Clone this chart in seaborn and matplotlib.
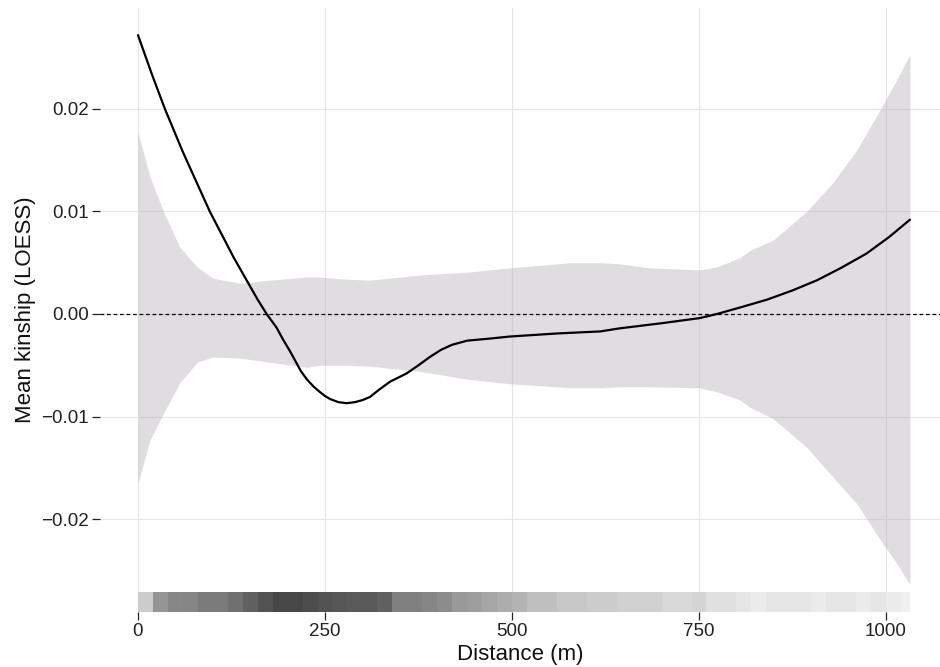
import numpy as np
import pandas as pd
import seaborn as sns
import matplotlib.pyplot as plt
from matplotlib.ticker import FuncFormatter

# LOESS fit of mean kinship against distance
fit_dist = [0, 18, 36, 60, 96, 128, 160, 172, 185, 194, 203, 212, 218, 226, 235, 243,
            250, 257, 268, 279, 290, 300, 310, 322, 337, 348, 359, 375, 390, 405, 420,
            440, 470, 497, 560, 618, 644, 700, 751, 774, 808, 841, 875, 908, 940, 974,
            1004, 1032]
fit_kin = [0.0272, 0.0235, 0.0200, 0.0158, 0.0100, 0.0055, 0.0014, 0.0, -0.0013, -0.0025,
           -0.0036, -0.0048, -0.0056, -0.0064, -0.0071, -0.0076, -0.0080, -0.0083, -0.0086,
           -0.0087, -0.0086, -0.0084, -0.0081, -0.0074, -0.0066, -0.0062, -0.0058, -0.0050,
           -0.0042, -0.0035, -0.0030, -0.0026, -0.0024, -0.0022, -0.0019, -0.0017, -0.0014,
           -0.0009, -0.0004, 0.0, 0.0007, 0.0014, 0.0023, 0.0033, 0.0045, 0.0059, 0.0075,
           0.0092]

# confidence band
band_dist = [0, 16, 34, 56, 79, 100, 136, 176, 226, 243, 277, 310, 377, 444, 497, 578,
             618, 644, 684, 751, 774, 805, 818, 849, 894, 929, 961, 992, 1014, 1032]
band_upper = [0.0177, 0.0134, 0.0100, 0.0065, 0.0046, 0.0035, 0.0030, 0.0033, 0.0036,
              0.0036, 0.0034, 0.0033, 0.0038, 0.0041, 0.0045, 0.0050, 0.0050, 0.0049,
              0.0045, 0.0043, 0.0046, 0.0055, 0.0062, 0.0072, 0.0100, 0.0128, 0.0160,
              0.0199, 0.0228, 0.0253]
band_lower = [-0.0165, -0.0123, -0.0097, -0.0067, -0.0047, -0.0042, -0.0043, -0.0047,
              -0.0052, -0.0050, -0.0050, -0.0051, -0.0056, -0.0064, -0.0068, -0.0072,
              -0.0072, -0.0071, -0.0071, -0.0072, -0.0076, -0.0084, -0.0091, -0.0102,
              -0.0130, -0.0159, -0.0185, -0.0220, -0.0243, -0.0264]

# rug: darkness of the distance rug in 20 m bins
rug_start = list(range(0, 1040, 20))
rug_dark = [0.20, 0.42, 0.47, 0.48, 0.52, 0.52, 0.56, 0.62, 0.68, 0.72, 0.72, 0.70, 0.68,
            0.66, 0.65, 0.65, 0.62, 0.50, 0.50, 0.48, 0.45, 0.40, 0.38, 0.35, 0.32, 0.30,
            0.25, 0.25, 0.22, 0.22, 0.20, 0.20, 0.18, 0.18, 0.18, 0.15, 0.15, 0.17, 0.12,
            0.12, 0.10, 0.08, 0.10, 0.10, 0.10, 0.08, 0.10, 0.10, 0.08, 0.10, 0.08, 0.06]

x_ticks = [0, 250, 500, 750, 1000]
y_ticks = [-0.02, -0.01, 0.0, 0.01, 0.02]

fit = pd.DataFrame({"dist": fit_dist, "kin": fit_kin})

sns.set_theme(style="whitegrid")
plt.rcParams['font.family'] = ['Liberation Sans', 'DejaVu Sans']

fig = plt.figure(figsize=(9.4, 6.67), dpi=100)
ax = fig.add_axes([100 / 940, 55 / 667, 840 / 940, 604 / 667])

ax.fill_between(band_dist, band_lower, band_upper, color='#b0aab2', alpha=0.4,
                linewidth=0, zorder=1)
ax.axhline(0, color='black', lw=0.9, ls=(0, (3, 2.2)), zorder=2)
sns.lineplot(data=fit, x="dist", y="kin", color='black', lw=1.6, ax=ax, zorder=3)

# rug strip along the bottom
rug_widths = [min(20, 1032 - s) for s in rug_start]
rug_cols = [str(1 - d) for d in rug_dark]
ax.bar(rug_start, 0.033, width=rug_widths, bottom=0, align='edge', color=rug_cols,
       linewidth=0, transform=ax.get_xaxis_transform(), zorder=2)

ax.set_xlim(-50.8, 1072.2)
ax.set_ylim(-0.02907, 0.02985)
ax.set_xticks(x_ticks)
ax.set_yticks(y_ticks)
ax.yaxis.set_major_formatter(FuncFormatter(lambda v, p: f"{v:.2f}".replace("-", "\u2212")))

for s in ax.spines.values():
    s.set_visible(False)
ax.grid(True, color='#e6e6e6', lw=0.8)
ax.set_axisbelow(True)
ax.tick_params(axis='both', which='major', direction='out', length=6, width=0.9,
               color='#222222', labelsize=13.5, labelcolor='#222222', pad=2,
               bottom=True, left=True)

ax.set_xlabel("Distance (m)", fontsize=16, labelpad=3, color='#111111')
ax.set_ylabel("Mean kinship (LOESS)", fontsize=16, labelpad=4, color='#111111')

fig.savefig("out.png", dpi=100)
